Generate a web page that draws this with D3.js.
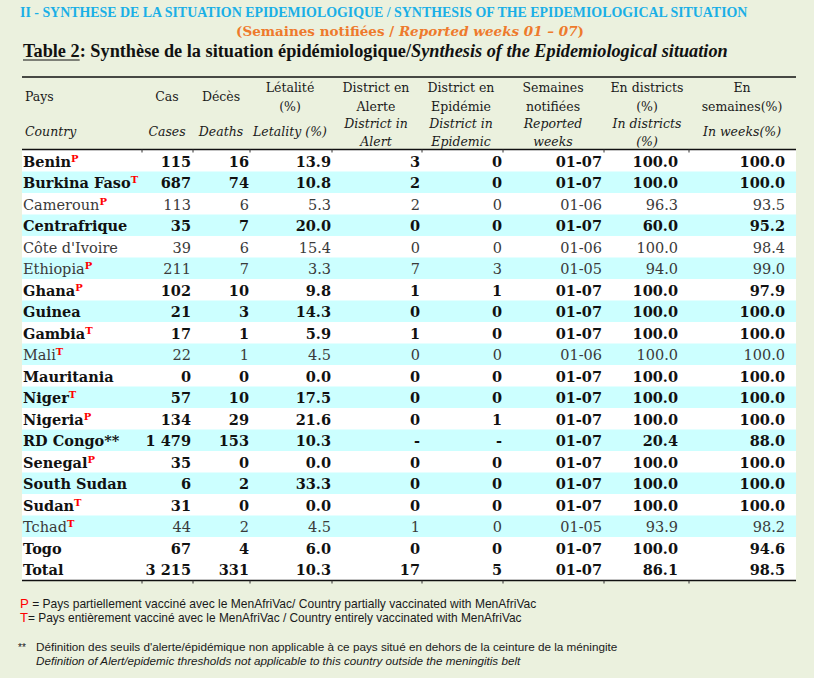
<!DOCTYPE html>
<html lang="en">
<head>
<meta charset="UTF-8">
<title>Table 2 - Synthese epidemiologique</title>
<script src="https://d3js.org/d3.v7.min.js"></script>
<style>
  body { margin: 0; background: #EBF1DE; }
  svg { display: block; }
</style>
</head>
<body>
<script>
const countries  = ["Benin", "Burkina Faso", "Cameroun", "Centrafrique", "Côte d'Ivoire", "Ethiopia", "Ghana", "Guinea", "Gambia", "Mali",
                    "Mauritania", "Niger", "Nigeria", "RD Congo**", "Senegal", "South Sudan", "Sudan", "Tchad", "Togo", "Total"];
const vaccMark   = ["P", "T", "P", "", "", "P", "P", "", "T", "T", "", "T", "P", "", "P", "", "T", "T", "", ""];
const boldRow    = [1, 1, 0, 1, 0, 0, 1, 1, 1, 0, 1, 1, 1, 1, 1, 1, 1, 0, 1, 1];
const cases      = [115, 687, 113, 35, 39, 211, 102, 21, 17, 22, 0, 57, 134, 1479, 35, 6, 31, 44, 67, 3215];
const deaths     = [16, 74, 6, 7, 6, 7, 10, 3, 1, 1, 0, 10, 29, 153, 0, 2, 0, 2, 4, 331];
const letality   = [13.9, 10.8, 5.3, 20.0, 15.4, 3.3, 9.8, 14.3, 5.9, 4.5, 0.0, 17.5, 21.6, 10.3, 0.0, 33.3, 0.0, 4.5, 6.0, 10.3];
const alertDist  = [3, 2, 2, 0, 0, 7, 1, 0, 1, 0, 0, 0, 0, null, 0, 0, 0, 1, 0, 17];
const epidDist   = [0, 0, 0, 0, 0, 3, 1, 0, 0, 0, 0, 0, 1, null, 0, 0, 0, 0, 0, 5];
const weeks      = ["01-07", "01-07", "01-06", "01-07", "01-06", "01-05", "01-07", "01-07", "01-07", "01-06",
                    "01-07", "01-07", "01-07", "01-07", "01-07", "01-07", "01-07", "01-05", "01-07", "01-07"];
const inDistrict = [100.0, 100.0, 96.3, 60.0, 100.0, 94.0, 100.0, 100.0, 100.0, 100.0,
                    100.0, 100.0, 100.0, 20.4, 100.0, 100.0, 100.0, 93.9, 100.0, 86.1];
const inWeeks    = [100.0, 100.0, 93.5, 95.2, 98.4, 99.0, 97.9, 100.0, 100.0, 100.0,
                    100.0, 100.0, 100.0, 88.0, 100.0, 100.0, 100.0, 98.2, 94.6, 98.5];

const colKeys    = ["cases", "deaths", "letality", "alert", "epidemic", "weeks", "inDistrict", "inWeeks"];
const headFr     = [["Cas"], ["Décès"], ["Létalité", "(%)"], ["District en", "Alerte"], ["District en", "Epidémie"],
                    ["Semaines", "notifiées"], ["En districts", "(%)"], ["En", "semaines(%)"]];
const headEn     = [["Cases"], ["Deaths"], ["Letality (%)"], ["District in", "Alert"], ["District in", "Epidemic"],
                    ["Reported", "weeks"], ["In districts", "(%)"], ["In weeks(%)"]];

const width = 814, height = 678;
const left = 22, right = 796;
const serif = "'DejaVu Serif', serif";

const svg = d3.select("body").append("svg")
    .attr("width", width).attr("height", height)
    .style("background", "#EBF1DE");

// set font-size so the text's natural width matches w
function fit(sel, w) {
    const size = parseFloat(sel.style("font-size"));
    const len = sel.node().getComputedTextLength();
    if (len > 0) sel.style("font-size", (size * w / len).toFixed(2) + "px");
    return sel;
}

// row scale and column scales
const y = d3.scaleBand().domain(countries).range([150, 580]);
const colRight  = d3.scaleOrdinal().domain(colKeys).range([191, 249, 331, 420, 502, 602, 678, 785]);
const colCenter = d3.scaleOrdinal().domain(colKeys).range([167, 221, 290, 376, 461, 553, 647, 742]);
const borders = [142, 193, 250, 332, 422, 503, 604, 689];

const fmtInt = v => d3.format(",")(v).replace(/,/g, " ");
const fmt1 = d3.format(".1f");
const dash = v => v == null ? "-" : v;

// titles
const t1 = svg.append("text").attr("x", 20).attr("y", 17)
    .style("font-family", "'Liberation Serif', serif").style("font-weight", "bold")
    .style("font-size", "13px").style("fill", "#1AAFE6")
    .text("II - SYNTHESE DE LA SITUATION EPIDEMIOLOGIQUE / SYNTHESIS OF THE EPIDEMIOLOGICAL SITUATION");
fit(t1, 728);

const t2 = svg.append("text").attr("x", 236).attr("y", 36)
    .style("font-family", serif).style("font-weight", "bold")
    .style("font-size", "14px").style("fill", "#EE7A2C");
t2.append("tspan").text("(Semaines notifiées / ");
t2.append("tspan").style("font-style", "italic").text("Reported weeks 01 – 07");
t2.append("tspan").text(")");
fit(t2, 348);

const t3 = svg.append("text").attr("x", 23).attr("y", 57)
    .style("font-family", "'Liberation Serif', serif").style("font-weight", "bold")
    .style("font-size", "17px").style("fill", "#111");
t3.append("tspan").text("Table 2");
t3.append("tspan").text(": Synthèse de la situation épidémiologique/");
t3.append("tspan").style("font-style", "italic").text("Synthesis of the Epidemiological situation");
fit(t3, 705);
const ulW = t3.select("tspan").node().getComputedTextLength();
svg.append("line").attr("x1", 23).attr("x2", 23 + ulW).attr("y1", 60).attr("y2", 60)
    .attr("stroke", "#111").attr("stroke-width", 1.2);

// body background and bands
svg.append("rect").attr("x", left).attr("y", y.range()[0])
    .attr("width", right - left).attr("height", y.range()[1] - y.range()[0])
    .attr("fill", "#fff");
svg.selectAll("rect.band")
    .data(countries.filter((c, i) => i % 2 === 1 && c !== "Total"))
    .join("rect").attr("class", "band")
    .attr("x", left).attr("y", d => y(d))
    .attr("width", right - left).attr("height", y.bandwidth())
    .attr("fill", "#CCFFFF");

// rules with small ticks at column borders
[77, 149.5, 580.5].forEach((ly, k) => {
    svg.append("line").attr("x1", left).attr("x2", right).attr("y1", ly).attr("y2", ly)
        .attr("stroke", "#111").attr("stroke-width", 1.6);
    if (k > 0) {
        svg.selectAll(null).data(borders).join("line")
            .attr("x1", d => d).attr("x2", d => d)
            .attr("y1", ly).attr("y2", ly + 3)
            .attr("stroke", "#333").attr("stroke-width", 1);
    }
});

// header
const hdr = svg.append("g").style("font", "12.5px " + serif).style("fill", "#1a1a1a");
hdr.append("text").attr("x", 25).attr("y", 101).text("Pays");
hdr.append("text").attr("x", 25).attr("y", 136).style("font-style", "italic").text("Country");
colKeys.forEach((k, i) => {
    const fr = headFr[i], en = headEn[i];
    const frY = fr.length === 1 ? [101] : [92, 111];
    const enY = en.length === 1 ? [136] : [128, 146];
    fr.forEach((s, j) => hdr.append("text").attr("x", colCenter(k)).attr("y", frY[j])
        .attr("text-anchor", "middle").text(s));
    en.forEach((s, j) => hdr.append("text").attr("x", colCenter(k)).attr("y", enY[j])
        .attr("text-anchor", "middle").style("font-style", "italic").text(s));
});

// body rows
const rows = countries.map((c, i) => ({
    country: c, mark: vaccMark[i], bold: boldRow[i],
    cases: fmtInt(cases[i]), deaths: fmtInt(deaths[i]), letality: fmt1(letality[i]),
    alert: dash(alertDist[i]), epidemic: dash(epidDist[i]), weeks: weeks[i],
    inDistrict: fmt1(inDistrict[i]), inWeeks: fmt1(inWeeks[i])
}));

const rowG = svg.selectAll("g.row").data(rows).join("g")
    .attr("class", "row")
    .attr("transform", d => `translate(0,${y(d.country) + 16.5})`)
    .style("font-family", serif).style("font-size", "14.5px")
    .style("font-weight", d => d.bold ? "bold" : "normal")
    .style("fill", d => d.bold ? "#111" : "#3a3a3a");

const nameT = rowG.append("text").attr("x", 23);
nameT.append("tspan").text(d => d.country);
nameT.append("tspan").attr("dy", -5)
    .style("font-size", "10px").style("font-weight", "bold").style("fill", "#FF0000")
    .text(d => d.mark);

colKeys.forEach(k => {
    rowG.append("text").attr("x", colRight(k)).attr("text-anchor", "end").text(d => d[k]);
});

// footnotes
const foot = svg.append("g").style("font-family", "'Liberation Sans', Arial, sans-serif").style("fill", "#1a1a1a");
const f1 = foot.append("text").attr("x", 20).attr("y", 608).style("font-size", "11px");
f1.append("tspan").style("fill", "#FF0000").style("font-size", "1.1em").text("P");
f1.append("tspan").text(" = Pays partiellement vacciné avec le MenAfriVac/ Country partially  vaccinated with MenAfriVac");
fit(f1, 517);
const f2 = foot.append("text").attr("x", 20).attr("y", 622).style("font-size", "11px");
f2.append("tspan").style("fill", "#FF0000").style("font-size", "1.1em").text("T");
f2.append("tspan").text("= Pays entièrement vacciné avec le MenAfriVac / Country entirely  vaccinated with MenAfriVac");
fit(f2, 502);
foot.append("text").attr("x", 18).attr("y", 651).style("font-size", "10px").text("**");
const f3 = foot.append("text").attr("x", 36).attr("y", 651).style("font-size", "11px")
    .text("Définition des seuils d'alerte/épidémique non applicable à ce pays situé en dehors de la ceinture de la méningite");
fit(f3, 582);
const f4 = foot.append("text").attr("x", 36).attr("y", 665).style("font-size", "11px").style("font-style", "italic")
    .text("Definition of Alert/epidemic thresholds not applicable to this country outside the meningitis belt");
fit(f4, 485);
</script>
</body>
</html>
